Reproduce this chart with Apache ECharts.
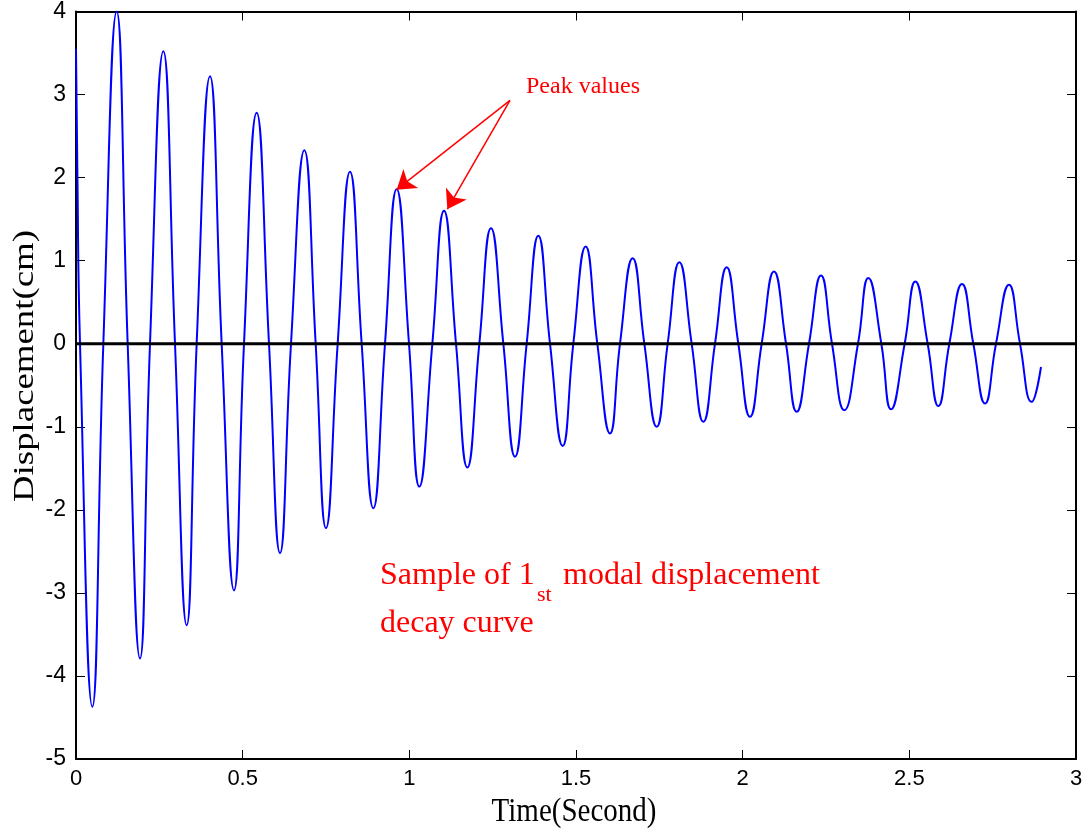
<!DOCTYPE html>
<html>
<head>
<meta charset="utf-8">
<title>Modal displacement decay curve</title>
<script src="https://cdn.jsdelivr.net/npm/echarts@6.0.0/dist/echarts.min.js"></script>
<style>
    html, body { margin: 0; padding: 0; background: #fff; }
    #chart { width: 1090px; height: 830px; }
</style>
</head>
<body>
<div id="chart"></div>
<script>
// values: peaks, troughs and zero crossings of the curve
var timeSec = [
    0.000, 0.004, 0.012, 0.049, 0.082, 0.122, 0.155, 0.192, 0.222, 0.262,
    0.297, 0.332, 0.362, 0.402, 0.437, 0.474, 0.504, 0.542, 0.579, 0.612,
    0.645, 0.685, 0.719, 0.750, 0.785, 0.822, 0.857, 0.892, 0.927, 0.962,
    0.999, 1.030, 1.069, 1.104, 1.140, 1.174, 1.210, 1.245, 1.282, 1.317,
    1.352, 1.387, 1.422, 1.460, 1.492, 1.529, 1.564, 1.602, 1.632, 1.670,
    1.705, 1.742, 1.775, 1.810, 1.847, 1.882, 1.917, 1.952, 1.987, 2.022,
    2.057, 2.094, 2.130, 2.162, 2.199, 2.235, 2.268, 2.305, 2.346, 2.377,
    2.416, 2.445, 2.486, 2.518, 2.555, 2.587, 2.620, 2.658, 2.692, 2.727,
    2.760, 2.799, 2.832, 2.867, 2.895
];
var dispCm = [
    3.55, 2.10, 0, -4.37, 0, 4.00, 0, -3.79, 0, 3.52,
    0, -3.39, 0, 3.22, 0, -2.97, 0, 2.78, 0, -2.52,
    0, 2.33, 0, -2.22, 0, 2.07, 0, -1.98, 0, 1.86,
    0, -1.72, 0, 1.60, 0, -1.49, 0, 1.39, 0, -1.36,
    0, 1.30, 0, -1.23, 0, 1.17, 0, -1.08, 0, 1.03,
    0, -1.00, 0, 0.98, 0, -0.94, 0, 0.92, 0, -0.88,
    0, 0.87, 0, -0.82, 0, 0.82, 0, -0.80, 0, 0.79,
    0, -0.79, 0, 0.75, 0, -0.75, 0, 0.72, 0, -0.72,
    0, 0.71, 0, -0.70, -0.28
];
var xRange = [0, 3];
var yRange = [-5, 4];
var xStep = 0.5;
var yStep = 1;
var zeroLine = [0, 0];
var arrowFrom = [1.302, 2.93];
var peakTargets = [[0.962, 1.855], [1.114, 1.62]];

var curve = timeSec.map(function(t, i) { return [t, dispCm[i]]; });

var myChart = echarts.init(document.getElementById('chart'), null, { renderer: 'canvas' });

var tickStyle = { show: true, inside: true, length: 9, lineStyle: { color: '#000', width: 1 } };
var lineStyle = { show: true, onZero: false, lineStyle: { color: '#000', width: 2 } };

var option = {
    animation: false,
    backgroundColor: '#fff',
    grid: { left: 76, right: 14, top: 10, bottom: 71 },
    xAxis: [{
        type: 'value',
        min: xRange[0],
        max: xRange[1],
        interval: xStep,
        axisLine: lineStyle,
        axisTick: tickStyle,
        splitLine: { show: false },
        axisLabel: { margin: 9, color: '#000', fontFamily: 'Liberation Sans', fontSize: 22 }
    }, {
        type: 'value',
        position: 'top',
        min: xRange[0],
        max: xRange[1],
        interval: xStep,
        axisLine: lineStyle,
        axisTick: tickStyle,
        splitLine: { show: false },
        axisLabel: { show: false }
    }],
    yAxis: [{
        type: 'value',
        min: yRange[0],
        max: yRange[1],
        interval: yStep,
        axisLine: lineStyle,
        axisTick: tickStyle,
        splitLine: { show: false },
        axisLabel: { margin: 10, color: '#000', fontFamily: 'Liberation Sans', fontSize: 23 }
    }, {
        type: 'value',
        position: 'right',
        min: yRange[0],
        max: yRange[1],
        interval: yStep,
        axisLine: lineStyle,
        axisTick: tickStyle,
        splitLine: { show: false },
        axisLabel: { show: false }
    }],
    series: [{
        name: 'displacement',
        type: 'line',
        data: curve,
        smooth: 0.5,
        showSymbol: false,
        lineStyle: { color: '#0000ff', width: 2 },
        markLine: {
            silent: true,
            symbol: ['none', 'arrow'],
            symbolSize: 18,
            label: { show: false },
            lineStyle: { color: '#ff0000', width: 1.5, type: 'solid' },
            data: peakTargets.map(function(p) {
                return [{ coord: arrowFrom }, { coord: p }];
            })
        }
    }, {
        name: 'zero',
        type: 'line',
        data: [[xRange[0], zeroLine[0]], [xRange[1], zeroLine[1]]],
        showSymbol: false,
        lineStyle: { color: '#000', width: 3 },
        z: 3
    }],
    graphic: [{
        type: 'text',
        x: 25, y: 366,
        rotation: Math.PI / 2,
        scaleX: 1.27,
        style: {
            text: 'Displacement(cm)',
            font: '29px "Liberation Serif"',
            fill: '#000',
            align: 'center',
            verticalAlign: 'middle'
        }
    }, {
        type: 'text',
        x: 574, y: 812,
        scaleY: 1.17,
        style: {
            text: 'Time(Second)',
            font: '29px "Liberation Serif"',
            fill: '#000',
            align: 'center',
            verticalAlign: 'middle'
        }
    }, {
        type: 'text',
        x: 526, y: 87,
        style: {
            text: 'Peak values',
            font: '24px "Liberation Serif"',
            fill: '#ff0000',
            align: 'left',
            verticalAlign: 'middle'
        }
    }, {
        type: 'text',
        x: 380, y: 576,
        style: {
            text: 'Sample of 1',
            font: '32px "Liberation Serif"',
            fill: '#ff0000',
            align: 'left',
            verticalAlign: 'middle'
        }
    }, {
        type: 'text',
        x: 537, y: 595,
        style: {
            text: 'st',
            font: '22px "Liberation Serif"',
            fill: '#ff0000',
            align: 'left',
            verticalAlign: 'middle'
        }
    }, {
        type: 'text',
        x: 563, y: 576,
        style: {
            text: 'modal displacement',
            font: '32px "Liberation Serif"',
            fill: '#ff0000',
            align: 'left',
            verticalAlign: 'middle'
        }
    }, {
        type: 'text',
        x: 380, y: 624,
        style: {
            text: 'decay curve',
            font: '32px "Liberation Serif"',
            fill: '#ff0000',
            align: 'left',
            verticalAlign: 'middle'
        }
    }]
};

myChart.setOption(option);
</script>
</body>
</html>
